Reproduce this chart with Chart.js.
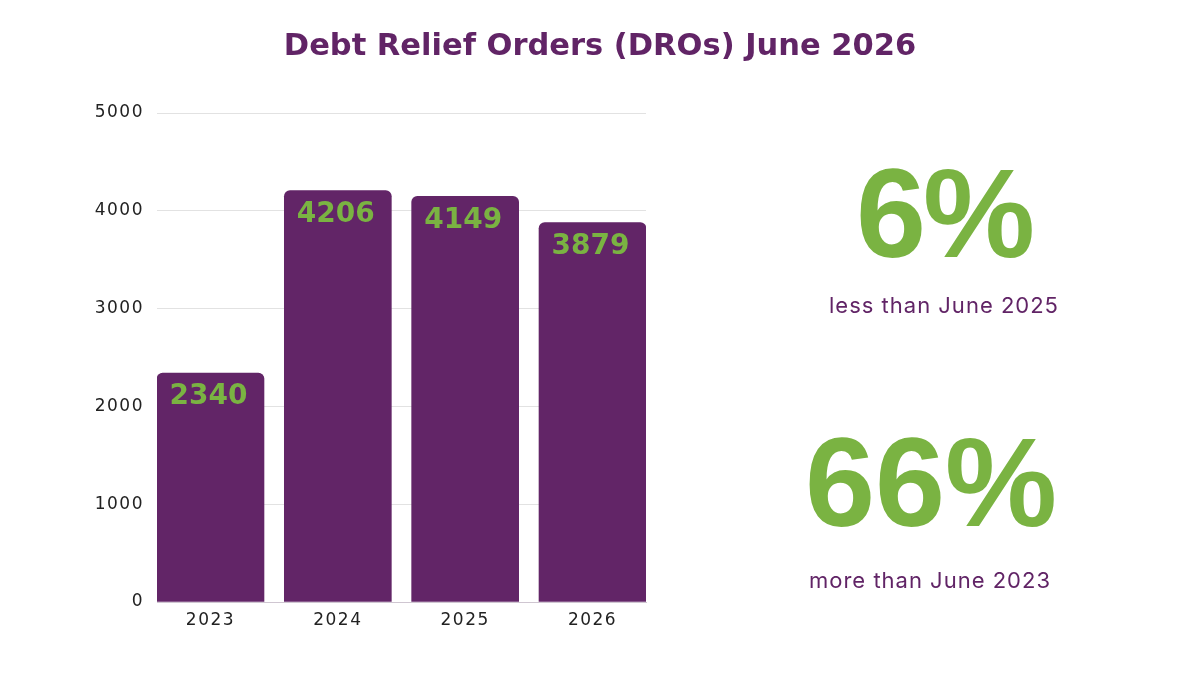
<!DOCTYPE html>
<html>
<head>
<meta charset="utf-8">
<script src="https://cdn.jsdelivr.net/npm/chart.js@4"></script>
<style>
  html, body { margin: 0; padding: 0; background: #ffffff; }
  #wrap { position: relative; width: 1200px; height: 675px; overflow: hidden; }
  #c { position: absolute; left: 0; top: 0; }
  .stat { position: absolute; text-align: center; white-space: nowrap; }
  .big { font-family: "Liberation Sans", Arial, sans-serif; font-weight: 700; color: #7ab342; font-size: 126px; line-height: 1; }
  .sub { font-family: Inter, "Open Sans", sans-serif; color: #612466; font-size: 22px; line-height: 1; letter-spacing: 1px; }
</style>
</head>
<body>
<div id="wrap">
  <canvas id="c" width="1200" height="675"></canvas>
  <div class="stat big" id="s1" style="left:844px; width:200px; top:151px; letter-spacing:-3px;">6%</div>
  <div class="stat sub" id="t1" style="left:794px; width:300px; top:294px;">less than June 2025</div>
  <div class="stat big" id="s2" style="left:781px; width:300px; top:420px;">66%</div>
  <div class="stat sub" id="t2" style="left:780px; width:300px; top:569px;">more than June 2023</div>
</div>
<script>
const titleText = "Debt Relief Orders (DROs) June 2026";
const categories = ["2023", "2024", "2025", "2026"];
const values = [2340, 4206, 4149, 3879];
const yTicks = [0, 1000, 2000, 3000, 4000, 5000];

const purple = "#622567";
const green = "#7ab342";

const points = values.map((v, i) => ({ x: i, y: v }));

const spacing = {
  id: "spacing",
  beforeDraw(chart) { chart.ctx.letterSpacing = "1.5px"; },
  afterDraw(chart) { chart.ctx.letterSpacing = "0px"; }
};

const barLabels = {
  id: "barLabels",
  afterDatasetsDraw(chart) {
    const ctx = chart.ctx;
    const meta = chart.getDatasetMeta(0);
    ctx.save();
    ctx.letterSpacing = "0px";
    ctx.fillStyle = green;
    ctx.font = "700 28px 'DejaVu Sans', sans-serif";
    ctx.textAlign = "center";
    ctx.textBaseline = "middle";
    meta.data.forEach((bar, i) => {
      ctx.fillText(String(values[i]), bar.x - 2, bar.y + 24);
    });
    ctx.restore();
  }
};

const titlePlugin = {
  id: "topTitle",
  afterDraw(chart) {
    const ctx = chart.ctx;
    ctx.save();
    ctx.letterSpacing = "0px";
    ctx.fillStyle = "#612466";
    ctx.font = "700 30.5px 'DejaVu Sans', sans-serif";
    ctx.textAlign = "center";
    ctx.textBaseline = "middle";
    ctx.fillText(titleText, 600, 47);
    ctx.restore();
  }
};

new Chart(document.getElementById("c"), {
  type: "bar",
  data: {
    datasets: [{
      data: points,
      backgroundColor: purple,
      borderRadius: { topLeft: 6, topRight: 6, bottomLeft: 0, bottomRight: 0 },
      borderSkipped: "bottom",
      barThickness: 107
    }]
  },
  options: {
    responsive: false,
    animation: false,
    devicePixelRatio: 1,
    layout: { padding: { left: 0, right: 554, top: 113, bottom: 0 } },
    plugins: { legend: { display: false }, tooltip: { enabled: false }, title: { display: false } },
    scales: {
      x: {
        type: "linear",
        offset: false,
        min: -0.42, max: 3.42,
        afterBuildTicks(scale) { scale.ticks = categories.map((c, i) => ({ value: i })); },
        grid: { display: false, drawTicks: false, offset: false },
        border: { display: true, color: "#cfc6d1", width: 1 },
        ticks: {
          color: "#222222",
          font: { family: "'DejaVu Sans', sans-serif", size: 17 },
          padding: 8,
          callback: (v) => categories[v]
        },
        afterFit(scale) { scale.height = 73; }
      },
      y: {
        min: 0, max: 5000,
        afterBuildTicks(scale) { scale.ticks = yTicks.map(v => ({ value: v })); },
        grid: { color: "#e2e2e2", lineWidth: 1, drawTicks: false },
        border: { display: false },
        ticks: {
          color: "#222222",
          font: { family: "'DejaVu Sans', sans-serif", size: 17 },
          padding: 13,
          callback: (v) => String(v)
        },
        afterFit(scale) { scale.width = 157; }
      }
    }
  },
  plugins: [spacing, barLabels, titlePlugin]
});
</script>
</body>
</html>
